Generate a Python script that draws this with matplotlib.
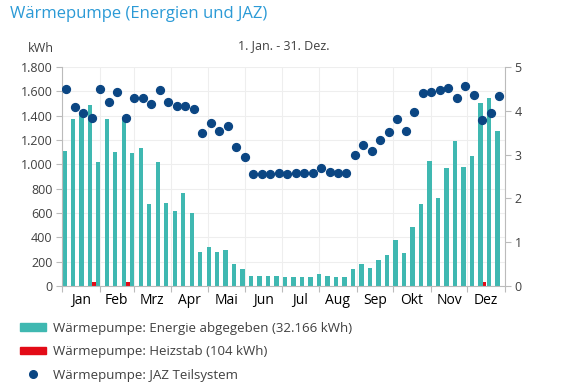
import numpy as np
import matplotlib.pyplot as plt
from matplotlib.patches import Patch
from matplotlib.lines import Line2D
from matplotlib.ticker import FuncFormatter

plt.rcParams['font.family'] = ['Open Sans', 'DejaVu Sans']

# === Daten: Wochenwerte (52 Wochen) ===
energie = [1110, 1368, 1420, 1490, 1017, 1368, 1100, 1380, 1091, 1135,
           673, 1020, 678, 613, 763, 604, 279, 323, 282, 293,
           183, 139, 79, 79, 79, 79, 74, 74, 74, 74,
           96, 85, 77, 77, 139, 183, 145, 211, 254, 375,
           274, 487, 673, 1028, 719, 971, 1195, 979, 1069, 1507,
           1546, 1275]
heizstab = [0, 0, 0, 36, 0, 0, 0, 34, 0, 0] + [0] * 39 + [30, 4, 0]
jaz = [4.49, 4.08, 3.94, 3.84, 4.49, 4.19, 4.42, 3.84, 4.29, 4.28,
       4.15, 4.47, 4.20, 4.11, 4.11, 4.03, 3.48, 3.72, 3.54, 3.66,
       3.18, 2.95, 2.56, 2.56, 2.56, 2.59, 2.55, 2.58, 2.58, 2.58,
       2.70, 2.61, 2.58, 2.58, 3.00, 3.21, 3.07, 3.34, 3.51, 3.81,
       3.54, 3.96, 4.41, 4.43, 4.48, 4.52, 4.30, 4.56, 4.36, 3.79,
       3.95, 4.34]
monate = ['Jan', 'Feb', 'Mrz', 'Apr', 'Mai', 'Jun', 'Jul', 'Aug', 'Sep', 'Okt', 'Nov', 'Dez']
monatstage = [31, 28, 31, 30, 31, 30, 31, 31, 30, 31, 30, 31]

teal = '#3fb8b1'
rot = '#e30b17'
blau = '#0b4683'
grau = '#404040'

week_start = np.arange(len(energie)) * 7
month_start = np.concatenate([[0], np.cumsum(monatstage)])
month_mid = month_start[:-1] + np.array(monatstage) / 2

fig = plt.figure(figsize=(5.64, 3.84), dpi=100)
ax = fig.add_axes([0.110, 0.255, 0.785, 0.571])

ax.bar(week_start + 0.1, energie, width=3.6, align='edge', color=teal, zorder=2)
ax.bar(week_start + 3.75, heizstab, width=3.1, align='edge', color=rot, zorder=2)

ax.set_xlim(0, 365)
ax.set_ylim(0, 1800)
ax.set_yticks(range(0, 1801, 200))
ax.yaxis.set_major_formatter(FuncFormatter(lambda v, p: f'{int(v):,}'.replace(',', '.')))
ax.set_xticks(month_start)
ax.set_xticklabels([])
ax.set_xticks(month_mid, minor=True)
ax.set_xticklabels(monate, minor=True)
ax.tick_params(axis='x', which='minor', length=0, pad=5)
ax.tick_params(axis='x', which='major', length=4, color='#bbbbbb')
ax.tick_params(axis='y', length=4, color='#bbbbbb', pad=3)
ax.tick_params(labelsize=9, labelcolor=grau)
ax.grid(True, which='major', color='#eeeeee', linewidth=0.8, zorder=0)
ax.set_axisbelow(True)
for s in ['top', 'right']:
    ax.spines[s].set_visible(False)
for s in ['left', 'bottom']:
    ax.spines[s].set_color('#bbbbbb')
    ax.spines[s].set_linewidth(0.8)

ax2 = ax.twinx()
ax2.scatter(week_start + 3.5, jaz, s=32, color=blau, zorder=3)
ax2.set_ylim(0, 5)
ax2.set_yticks(range(0, 6))
ax2.tick_params(axis='y', length=4, color='#bbbbbb', labelsize=9, labelcolor=grau, pad=3)
for s in ['top', 'left', 'bottom']:
    ax2.spines[s].set_visible(False)
ax2.spines['right'].set_color('#bbbbbb')
ax2.spines['right'].set_linewidth(0.8)

fig.text(10 / 564, 1 - 14 / 384, 'Wärmepumpe (Energien und JAZ)', fontsize=12, color='#2b9ad6',
         va='center', ha='left')
fig.text(284 / 564, 1 - 46 / 384, '1. Jan. - 31. Dez.', fontsize=9, color=grau, va='center', ha='center')
fig.text(41 / 564, 1 - 48 / 384, 'kWh', fontsize=9, color=grau, va='center', ha='center')

handles = [Patch(color=teal), Patch(color=rot),
           Line2D([], [], marker='o', linestyle='none', color=blau, markersize=5.5)]
labels = ['Wärmepumpe: Energie abgegeben (32.166 kWh)', 'Wärmepumpe: Heizstab (104 kWh)',
          'Wärmepumpe: JAZ Teilsystem']
leg = fig.legend(handles, labels, loc='upper left', bbox_to_anchor=(13 / 564, 1 - 315 / 384),
                 frameon=False, fontsize=9.5, handlelength=2.0, handleheight=0.55,
                 labelspacing=0.8, handletextpad=0.5, borderpad=0)
for t in leg.get_texts():
    t.set_color(grau)

fig.savefig('out.png', dpi=100)
